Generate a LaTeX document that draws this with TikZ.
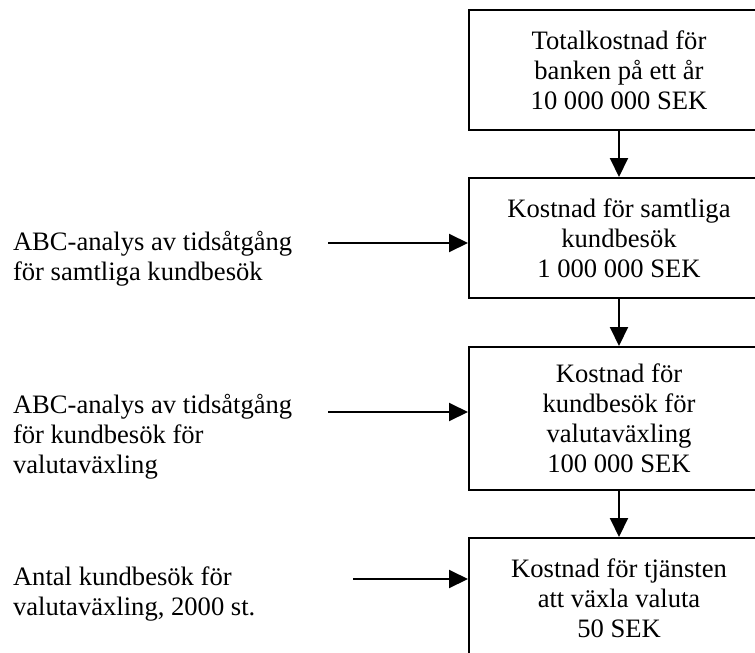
\documentclass[tikz,border=0pt]{standalone}
\usepackage{fontspec}
\setmainfont{Liberation Serif}
\usetikzlibrary{arrows.meta}

\begin{document}
\begin{tikzpicture}[x=0.5pt, y=-0.5pt, line width=1pt,
    font=\fontsize{13.3}{15}\selectfont,
    kostnad/.style={draw, minimum width=150pt, minimum height=60pt, align=center, inner sep=0pt},
    analys/.style={anchor=base west, align=left, inner sep=0pt},
    pil/.style={-{Triangle[length=9.5pt, width=9pt]}}]
      \useasboundingbox (0,0) rectangle (755,653);
      \clip (0,0) rectangle (755,653);
      % kostnadskedjan
      \node[kostnad] (total) at (619,70) {Totalkostnad för\\banken på ett år\\10 000 000 SEK};
      \node[kostnad] (samtliga) at (619,238) {Kostnad för samtliga\\kundbesök\\1 000 000 SEK};
      \node[kostnad, minimum height=71.5pt] (valuta) at (619,418.5) {Kostnad för\\kundbesök för\\valutaväxling\\100 000 SEK};
      \node[kostnad] (tjanst) at (619,598) {Kostnad för tjänsten\\att växla valuta\\50 SEK};
      \draw[pil] (total) -- (samtliga);
      \draw[pil] (samtliga) -- (valuta);
      \draw[pil] (valuta) -- (tjanst);
      % underlag (base = sista raden)
      \node[analys] (abc1) at (12,280) {ABC-analys av tidsåtgång\\för samtliga kundbesök};
      \node[analys] (abc2) at (12,473) {ABC-analys av tidsåtgång\\för kundbesök för\\valutaväxling};
      \node[analys] (antal) at (12,615) {Antal kundbesök för\\valutaväxling, 2000 st.};
      \coordinate (in1) at (328,243);
      \coordinate (in2) at (328,412);
      \coordinate (in3) at (353,579);
      \draw[pil] (in1) -- (in1 -| samtliga.west);
      \draw[pil] (in2) -- (in2 -| valuta.west);
      \draw[pil] (in3) -- (in3 -| tjanst.west);
\end{tikzpicture}
\end{document}
